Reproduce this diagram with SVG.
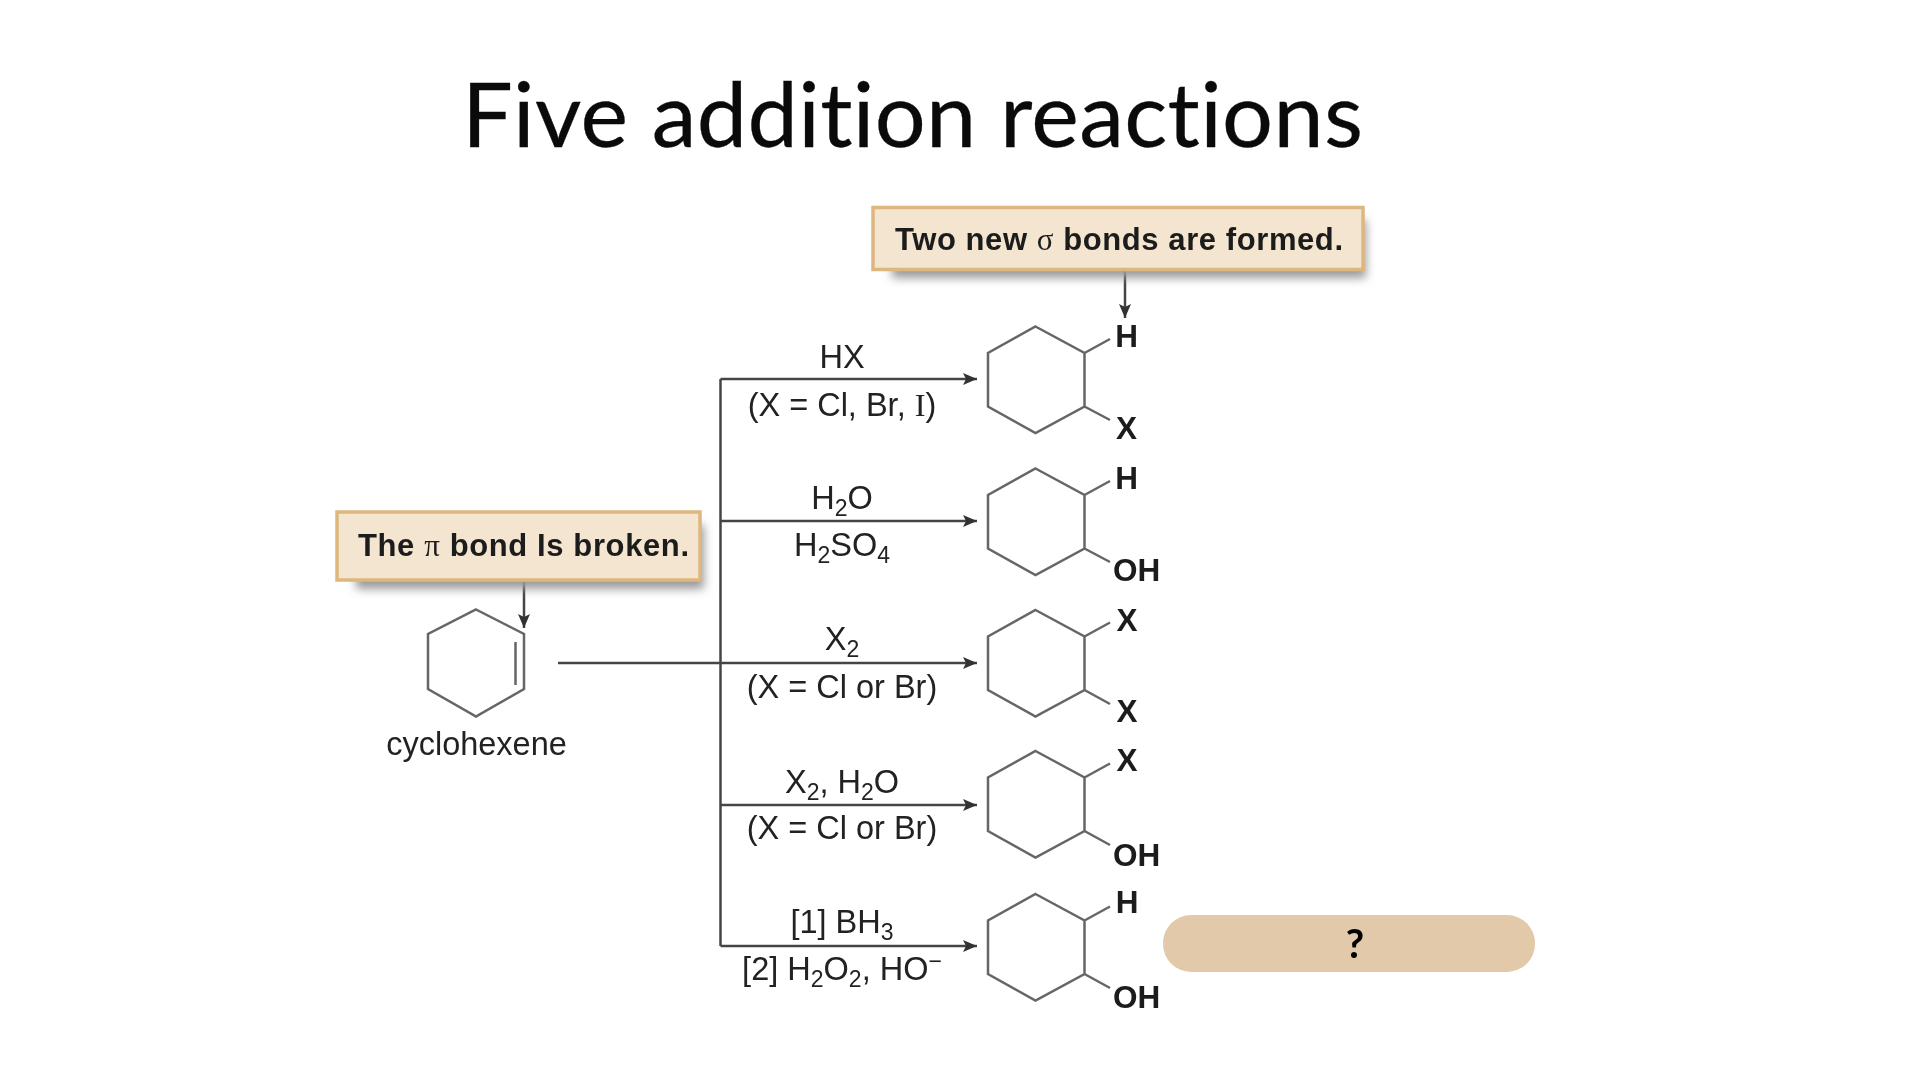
<svg xmlns="http://www.w3.org/2000/svg" width="1920" height="1080" viewBox="0 0 1920 1080">
<defs>
<marker id="ah" markerUnits="userSpaceOnUse" markerWidth="14" markerHeight="12" refX="14" refY="6" orient="auto"><path d="M0 0L14 6L0 12L3 6Z" fill="#333"/></marker>
<filter id="sh" x="-10%" y="-30%" width="125%" height="170%"><feGaussianBlur stdDeviation="5"/></filter>
<filter id="soft" x="-2%" y="-2%" width="104%" height="104%"><feGaussianBlur stdDeviation="0.6"/></filter>
</defs>
<style>
text{font-family:"Liberation Sans",Arial,sans-serif;fill:#222;font-variant-ligatures:none}
.t{font-family:Lato,"Open Sans",sans-serif;font-size:90px;fill:#0a0a0a;stroke:#0a0a0a;stroke-width:.3px}
.b{font-size:31px;font-weight:bold;fill:#1c1c1c}
.r{font-size:32.500px;text-anchor:middle}
.a{font-size:31.500px;font-weight:bold;text-anchor:middle;fill:#1c1c1c}
.s{font-family:"Liberation Serif",serif}
.sub{font-size:23px}
.box{fill:#F3E5CF;stroke:#DDB77E;stroke-width:3.500}
.shd{fill:#9a9a9a;filter:url(#sh)}
.bond{fill:none;stroke:#666;stroke-width:2.500}
.arr{fill:none;stroke:#444;stroke-width:2.500}
</style>
<rect width="1920" height="1080" fill="#fff"/>
<text id="title" class="t" x="462" y="147" textLength="901">Five addition reactions</text>
<g filter="url(#soft)">
<g id="connectors">
<path class="arr" d="M720.500 946V379"/>
<path class="arr" d="M720.500 379H977" marker-end="url(#ah)"/>
<path class="arr" d="M720.500 521H977" marker-end="url(#ah)"/>
<path class="arr" d="M558 663H977" marker-end="url(#ah)"/>
<path class="arr" d="M720.500 805H977" marker-end="url(#ah)"/>
<path class="arr" d="M720.500 946H977" marker-end="url(#ah)"/>
<path class="arr" d="M524 581V628" marker-end="url(#ah)"/>
<path class="arr" d="M1125 270V318" marker-end="url(#ah)"/>
</g>
<g id="note-pi">
<rect class="shd" x="356" y="525" width="348" height="64"/>
<rect class="box" x="337" y="512" width="363" height="68"/>
<text class="b" x="358" y="556" textLength="331">The <tspan class="s" font-weight="normal">π</tspan> bond Is broken.</text>
</g>
<g id="note-sigma">
<rect class="shd" x="892" y="220" width="474" height="58"/>
<rect class="box" x="873" y="207.500" width="490" height="62"/>
<text class="b" x="895" y="250" textLength="448">Two new <tspan class="s" font-weight="normal">σ</tspan> bonds are formed.</text>
</g>
<g id="cyclohexene">
<path class="bond" d="M476 609.500L524 634V689L476 716.500L428 689V634Z"/>
<path class="bond" d="M515.500 642V685"/>
<text class="r" x="476.500" y="755">cyclohexene</text>
</g>
<g id="reagent-1">
<text class="r" x="842" y="368">HX</text>
<text class="r" x="842" y="416">(X = Cl, Br, <tspan class="s">I</tspan>)</text>
</g>
<g id="reagent-2">
<text class="r" x="842" y="509">H<tspan class="sub" dy="7">2</tspan><tspan dy="-7">O</tspan></text>
<text class="r" x="842" y="556">H<tspan class="sub" dy="7">2</tspan><tspan dy="-7">SO</tspan><tspan class="sub" dy="7">4</tspan></text>
</g>
<g id="reagent-3">
<text class="r" x="842" y="650">X<tspan class="sub" dy="7">2</tspan></text>
<text class="r" x="842" y="698">(X = Cl or Br)</text>
</g>
<g id="reagent-4">
<text class="r" x="842" y="792.500">X<tspan class="sub" dy="7">2</tspan><tspan dy="-7">, H</tspan><tspan class="sub" dy="7">2</tspan><tspan dy="-7">O</tspan></text>
<text class="r" x="842" y="839">(X = Cl or Br)</text>
</g>
<g id="reagent-5">
<text class="r" x="842" y="933">[1] BH<tspan class="sub" dy="7">3</tspan></text>
<text class="r" x="842" y="980">[2] H<tspan class="sub" dy="7">2</tspan><tspan dy="-7">O</tspan><tspan class="sub" dy="7">2</tspan><tspan dy="-7">, HO</tspan><tspan class="sub" dy="-11">−</tspan></text>
</g>
<g id="product-1">
<path class="bond" d="M1035.500 326.500L1084.500 353V406.500L1035.500 433L988 406.500V353ZM1084.500 353L1110 339M1084.500 406.500L1110 420"/>
<text class="a" x="1126.500" y="347">H</text><text class="a" x="1126.500" y="439">X</text>
</g>
<g id="product-2">
<path class="bond" d="M1035.500 468.500L1084.500 495V548.500L1035.500 575L988 548.500V495ZM1084.500 495L1110 481M1084.500 548.500L1110 562"/>
<text class="a" x="1126.500" y="489">H</text><text class="a" x="1136.500" y="581">OH</text>
</g>
<g id="product-3">
<path class="bond" d="M1035.500 610L1084.500 636.500V690L1035.500 716.500L988 690V636.500ZM1084.500 636.500L1110 622.500M1084.500 690L1110 704"/>
<text class="a" x="1127" y="631">X</text><text class="a" x="1127" y="722">X</text>
</g>
<g id="product-4">
<path class="bond" d="M1035.500 751L1084.500 777.500V831L1035.500 857.500L988 831V777.500ZM1084.500 777.500L1110 763.500M1084.500 831L1110 845"/>
<text class="a" x="1127" y="771">X</text><text class="a" x="1136.500" y="865.500">OH</text>
</g>
<g id="product-5">
<path class="bond" d="M1035.500 894L1084.500 920.500V974L1035.500 1000.500L988 974V920.500ZM1084.500 920.500L1110 906.500M1084.500 974L1110 988"/>
<text class="a" x="1127" y="913">H</text><text class="a" x="1136.500" y="1008">OH</text>
</g>
</g>
<g id="answer-pill">
<rect x="1163" y="915" width="372" height="57" rx="28" fill="#E2C9A9"/>
<text x="1355" y="958" text-anchor="middle" style="font-family:Lato,sans-serif;font-size:40px;font-weight:bold;fill:#000">?</text>
</g>
</svg>
